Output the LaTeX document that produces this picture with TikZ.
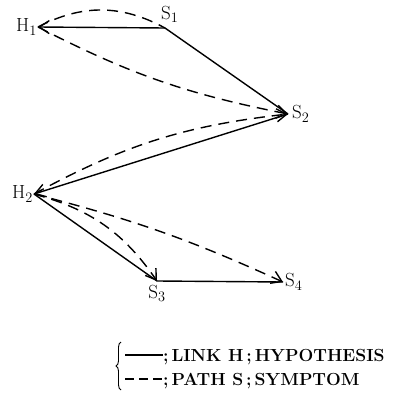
\documentclass[tikz,border=0pt]{standalone}
\usetikzlibrary{positioning,arrows.meta,decorations.pathreplacing}

\begin{document}
\begin{tikzpicture}[x=1pt, y=1pt, >={Straight Barb[length=10pt, width=13pt]},
          linkline/.style={line width=1.4pt},
          pathline/.style={line width=1.4pt, dash pattern=on 11pt off 7pt},
          lbl/.style={inner sep=0pt, font=\fontsize{19}{22}\selectfont},
          legtxt/.style={inner sep=0pt, anchor=base west, font=\fontsize{17.5}{21}\selectfont\bfseries}]
        \useasboundingbox (0,0) rectangle (394,392);
        \coordinate (h1) at (38,365);
        \coordinate (s1) at (165,364);
        \coordinate (s2) at (288,278);
        \coordinate (h2) at (34,198);
        \coordinate (s3) at (157,111);
        \coordinate (s4) at (283,110);
        \node[lbl, left=1pt of h1] (h1lbl) {H$_1$};
        \node[lbl, above right=5pt and -4pt of s1] (s1lbl) {S$_1$};
        \node[lbl, right=4pt of s2] (s2lbl) {S$_2$};
        \node[lbl, left=1pt of h2] (h2lbl) {H$_2$};
        \node[lbl, below=4pt of s3] (s3lbl) {S$_3$};
        \node[lbl, right=2pt of s4] (s4lbl) {S$_4$};
        \draw[linkline, ->] (s1) -- (h1);
        \draw[linkline] (s1) -- (s2);
        \draw[linkline, ->] (s2) -- (h2);
        \draw[linkline] (h2) -- (s3) -- (s4);
        \draw[pathline] (h1) to[bend left=28] (s1);
        \draw[pathline, ->] (h1) to[bend right=8] (s2);
        \foreach \s/\b in {s2/11, s3/20, s4/5} {
          \draw[pathline, ->] (h2) to[bend left=\b] (\s);
        }
        \node[legtxt] (leglink) at (163,31) {;\,LINK H\,;\,HYPOTHESIS};
        \node[legtxt] (legpath) at (163,7) {;\,PATH S\,;\,SYMPTOM};
        \coordinate (linkstart) at (125,37);
        \coordinate (pathstart) at (125,13);
        \draw[linkline] (linkstart) -- (linkstart -| leglink.west);
        \draw[pathline, dash pattern=on 9pt off 5pt] (pathstart) -- (pathstart -| legpath.west);
        \draw[line width=0.9pt, decorate, decoration={brace, amplitude=5pt}] (121,2) -- (121,50);
      \end{tikzpicture}
\end{document}
